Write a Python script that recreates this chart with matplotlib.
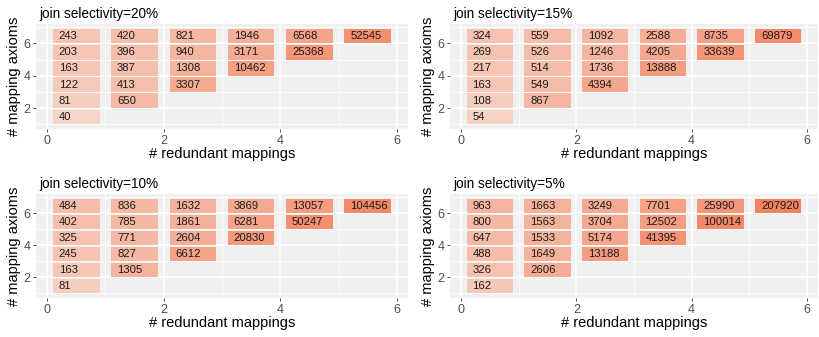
import numpy as np
import matplotlib
matplotlib.use("Agg")
import matplotlib.pyplot as plt
from matplotlib.colors import LinearSegmentedColormap, Normalize
from matplotlib.patches import Rectangle

plt.rcParams["font.family"] = ["Liberation Sans", "DejaVu Sans"]

# ---------------------------------------------------------------------------
# Data: one list per "# redundant mappings" column (x = 0..5),
# values listed from the lowest "# mapping axioms" row upward (y starts at x+1)
# ---------------------------------------------------------------------------
titles = ["join selectivity=20%", "join selectivity=15%",
          "join selectivity=10%", "join selectivity=5%"]

sel20 = [[40, 81, 122, 163, 203, 243],
         [650, 413, 387, 396, 420],
         [3307, 1308, 940, 821],
         [10462, 3171, 1946],
         [25368, 6568],
         [52545]]
sel15 = [[54, 108, 163, 217, 269, 324],
         [867, 549, 514, 526, 559],
         [4394, 1736, 1246, 1092],
         [13888, 4205, 2588],
         [33639, 8735],
         [69879]]
sel10 = [[81, 163, 245, 325, 402, 484],
         [1305, 827, 771, 785, 836],
         [6612, 2604, 1861, 1632],
         [20830, 6281, 3869],
         [50247, 13057],
         [104456]]
sel05 = [[162, 326, 488, 647, 800, 963],
         [2606, 1649, 1533, 1563, 1663],
         [13188, 5174, 3704, 3249],
         [41395, 12502, 7701],
         [100014, 25990],
         [207920]]
panels = [sel20, sel15, sel10, sel05]

# colour scale on log10(value), shared by all panels
cmap = LinearSegmentedColormap.from_list("tiles", ["#F6D5C8", "#F4825F"])
norm = Normalize(np.log10(40), np.log10(207920))

W, H = 820, 337
fig = plt.figure(figsize=(W / 100, H / 100), dpi=100)

# panel boxes in pixels: (left, top, right, bottom)
boxes = [(36, 24, 408, 129), (450, 24, 818, 129),
         (36, 194, 408, 298), (450, 194, 818, 298)]

BG = "#F0F0F0"
for vals, title, (l, t, r, b) in zip(panels, titles, boxes):
    ax = fig.add_axes([l / W, 1 - b / H, (r - l) / W, (b - t) / H])
    ax.set_facecolor(BG)
    for s in ax.spines.values():
        s.set_visible(False)

    ax.set_xlim(0.1 - 0.29, 5.9 + 0.29)
    ax.set_ylim(1 - 0.295, 6.9 + 0.295)

    # ggplot-like grid
    for xv in [1, 3, 5]:
        ax.axvline(xv, color="white", lw=0.55, zorder=0.5)
    for yv in [1, 3, 5, 7]:
        ax.axhline(yv, color="white", lw=0.55, zorder=0.5)
    for xv in [0, 2, 4, 6]:
        ax.axvline(xv, color="white", lw=1.1, zorder=0.6)
    for yv in [2, 4, 6]:
        ax.axhline(yv, color="white", lw=1.1, zorder=0.6)

    for x, col in enumerate(vals):
        for i, v in enumerate(col):
            y = x + 1 + i
            ax.add_patch(Rectangle((x + 0.1, y), 0.8, 0.9,
                                   facecolor=cmap(norm(np.log10(v))),
                                   edgecolor="none", zorder=2))
            ax.text(x + 0.2, y + 0.45, str(v), ha="left", va="center",
                    fontsize=8.1, color="#1A1A1A", zorder=3)

    ax.set_xticks([0, 2, 4, 6])
    ax.set_yticks([2, 4, 6])
    ax.tick_params(length=2.5, width=0.6, color="#333333",
                   labelcolor="#4D4D4D", labelsize=9, pad=1.5)
    ax.set_xlabel("# redundant mappings", fontsize=10.5, labelpad=0.5)
    ax.set_ylabel("# mapping axioms", fontsize=10.5, labelpad=1.5)
    ax.set_title(title, fontsize=9.8, loc="left", pad=4, x=0.008)

fig.savefig("out.png", dpi=100)
